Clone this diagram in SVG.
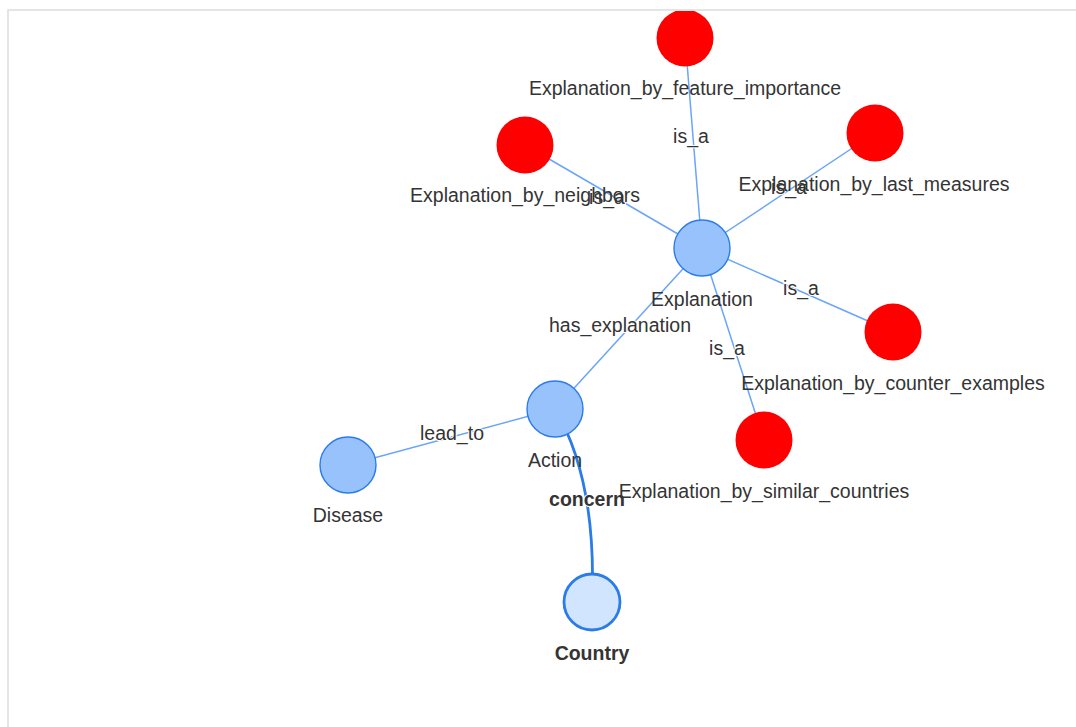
<svg xmlns="http://www.w3.org/2000/svg" width="1076" height="727" viewBox="0 0 1076 727">
  <defs>
    <clipPath id="frame">
      <rect x="9" y="11" width="1100" height="800"/>
    </clipPath>
    <style>
      .edge { fill: none; stroke: #6aa5f8; stroke-width: 1.5; }
      .edge-sel { fill: none; stroke: #2b7ce9; stroke-width: 2.8; }
      .red { fill: #ff0000; }
      .blue { fill: #97c2fc; stroke: #2b7ce9; stroke-width: 1.4; }
      .sel { fill: #d2e5ff; stroke: #2b7ce9; stroke-width: 2.8; }
      text { font-family: "Liberation Sans", Arial, sans-serif; font-size: 19.5px; fill: #343434; text-anchor: middle; }
      .elabel { stroke: #ffffff; stroke-width: 2; paint-order: stroke; }
      .bold { font-weight: bold; }
    </style>
  </defs>
  <rect x="8" y="10" width="1120" height="800" fill="#ffffff" stroke="#dddddd" stroke-width="1.5"/>
  <g clip-path="url(#frame)">
    <g id="connectors">
      <line class="edge" x1="702" y1="248" x2="685" y2="38"/>
      <line class="edge" x1="702" y1="248" x2="525" y2="145"/>
      <line class="edge" x1="702" y1="248" x2="875" y2="133"/>
      <line class="edge" x1="702" y1="248" x2="893" y2="332"/>
      <line class="edge" x1="702" y1="248" x2="764" y2="440"/>
      <line class="edge" x1="555" y1="409" x2="702" y2="248"/>
      <line class="edge" x1="555" y1="409" x2="348" y2="465"/>
      <path class="edge-sel" d="M555 409 Q597 480 592 602"/>
      <text class="elabel" x="691" y="143">is_a</text>
      <text class="elabel" x="607" y="204">is_a</text>
      <text class="elabel" x="789" y="194">is_a</text>
      <text class="elabel" x="801" y="295">is_a</text>
      <text class="elabel" x="727" y="355">is_a</text>
      <text class="elabel" x="620" y="332">has_explanation</text>
      <text class="elabel" x="452" y="440">lead_to</text>
      <text class="elabel bold" x="587" y="506">concern</text>
    </g>
    <g id="node-feature-importance">
      <circle class="red" cx="685" cy="38" r="28.5"/>
      <text x="685" y="95">Explanation_by_feature_importance</text>
    </g>
    <g id="node-neighbors">
      <circle class="red" cx="525" cy="145" r="28.5"/>
      <text x="525" y="202">Explanation_by_neighbors</text>
    </g>
    <g id="node-last-measures">
      <circle class="red" cx="875" cy="133" r="28.5"/>
      <text x="874" y="191">Explanation_by_last_measures</text>
    </g>
    <g id="node-explanation">
      <circle class="blue" cx="702" cy="248" r="28"/>
      <text x="702" y="306">Explanation</text>
    </g>
    <g id="node-counter-examples">
      <circle class="red" cx="893" cy="332" r="28.5"/>
      <text x="893" y="390">Explanation_by_counter_examples</text>
    </g>
    <g id="node-similar-countries">
      <circle class="red" cx="764" cy="440" r="28.5"/>
      <text x="764" y="498">Explanation_by_similar_countries</text>
    </g>
    <g id="node-action">
      <circle class="blue" cx="555" cy="409" r="28"/>
      <text x="555" y="467">Action</text>
    </g>
    <g id="node-disease">
      <circle class="blue" cx="348" cy="465" r="28"/>
      <text x="348" y="522">Disease</text>
    </g>
    <g id="node-country">
      <circle class="sel" cx="592" cy="602" r="28"/>
      <text class="bold" x="592" y="660">Country</text>
    </g>
  </g>
</svg>
